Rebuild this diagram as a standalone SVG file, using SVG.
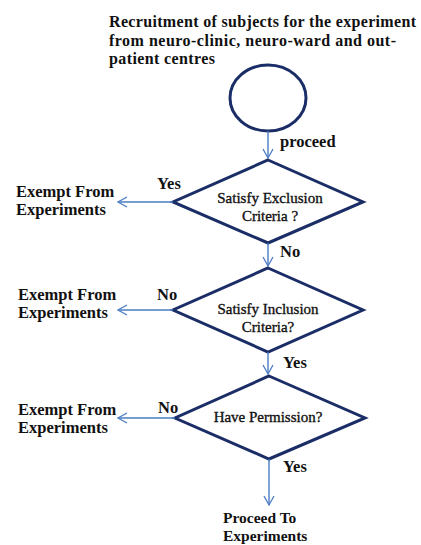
<svg xmlns="http://www.w3.org/2000/svg" width="421" height="545" viewBox="0 0 421 545">
<defs>
<marker id="ah" markerWidth="12" markerHeight="12" refX="10" refY="6" orient="auto" markerUnits="userSpaceOnUse">
<path d="M1,1 L10,6 L1,11" fill="none" stroke="#4a7cc4" stroke-width="1.3"/>
</marker>
<style>
.shape{fill:#fff;stroke:#1a2d66;stroke-width:3}
.conn{stroke:#4a7cc4;stroke-width:1.4;fill:none;marker-end:url(#ah)}
text{font-family:"Liberation Serif","Times New Roman",serif;font-size:15px;fill:#111}
.n{stroke:#111;stroke-width:0.35}
.b{font-weight:bold;font-size:16.5px}
.p{font-size:15.5px}
.t{font-weight:bold;font-size:16px}
.c{text-anchor:middle}
</style>
</defs>
<rect width="421" height="545" fill="#fff"/>
<g id="title">
<text class="t" x="109" y="27" textLength="307" lengthAdjust="spacing">Recruitment of subjects for the experiment</text>
<text class="t" x="109" y="46" textLength="287" lengthAdjust="spacing">from neuro-clinic, neuro-ward and out-</text>
<text class="t" x="109" y="64" textLength="106" lengthAdjust="spacing">patient centres</text>
</g>
<g id="start"><ellipse class="shape" cx="268" cy="98" rx="38" ry="33"/></g>
<g id="exclusion">
<polygon class="shape" points="268,160 363,202 268,243 173,202"/>
<text class="c n" x="270" y="203">Satisfy Exclusion</text>
<text class="c n" x="270" y="221">Criteria ?</text>
</g>
<g id="inclusion">
<polygon class="shape" points="268,268 363,310 268,352 173,310"/>
<text class="c n" x="268" y="314">Satisfy Inclusion</text>
<text class="c n" x="268" y="332">Criteria?</text>
</g>
<g id="permission">
<polygon class="shape" points="269,376 365,418 269,459 175,418"/>
<text class="c n" x="268" y="422">Have Permission?</text>
</g>
<g id="exempt1">
<text class="b" x="16" y="197">Exempt From</text>
<text class="b" x="16" y="215">Experiments</text>
</g>
<g id="exempt2">
<text class="b" x="18" y="300">Exempt From</text>
<text class="b" x="18" y="318">Experiments</text>
</g>
<g id="exempt3">
<text class="b" x="18" y="415">Exempt From</text>
<text class="b" x="18" y="433">Experiments</text>
</g>
<g id="proceedTo">
<text class="b p" x="223" y="523">Proceed To</text>
<text class="b p" x="223" y="541">Experiments</text>
</g>
<g id="connectors">
<line class="conn" x1="268" y1="131" x2="268" y2="158"/>
<line class="conn" x1="173" y1="202" x2="118" y2="202"/>
<line class="conn" x1="268" y1="243" x2="268" y2="266"/>
<line class="conn" x1="173" y1="310" x2="118" y2="310"/>
<line class="conn" x1="268" y1="352" x2="268" y2="374"/>
<line class="conn" x1="175" y1="418" x2="118" y2="418"/>
<line class="conn" x1="269" y1="459" x2="269" y2="505"/>
<text class="b" x="280" y="147">proceed</text>
<text class="b" x="157" y="189">Yes</text>
<text class="b" x="280" y="257">No</text>
<text class="b" x="157" y="300">No</text>
<text class="b" x="283" y="368">Yes</text>
<text class="b" x="158" y="413">No</text>
<text class="b" x="283" y="472">Yes</text>
</g>
</svg>
